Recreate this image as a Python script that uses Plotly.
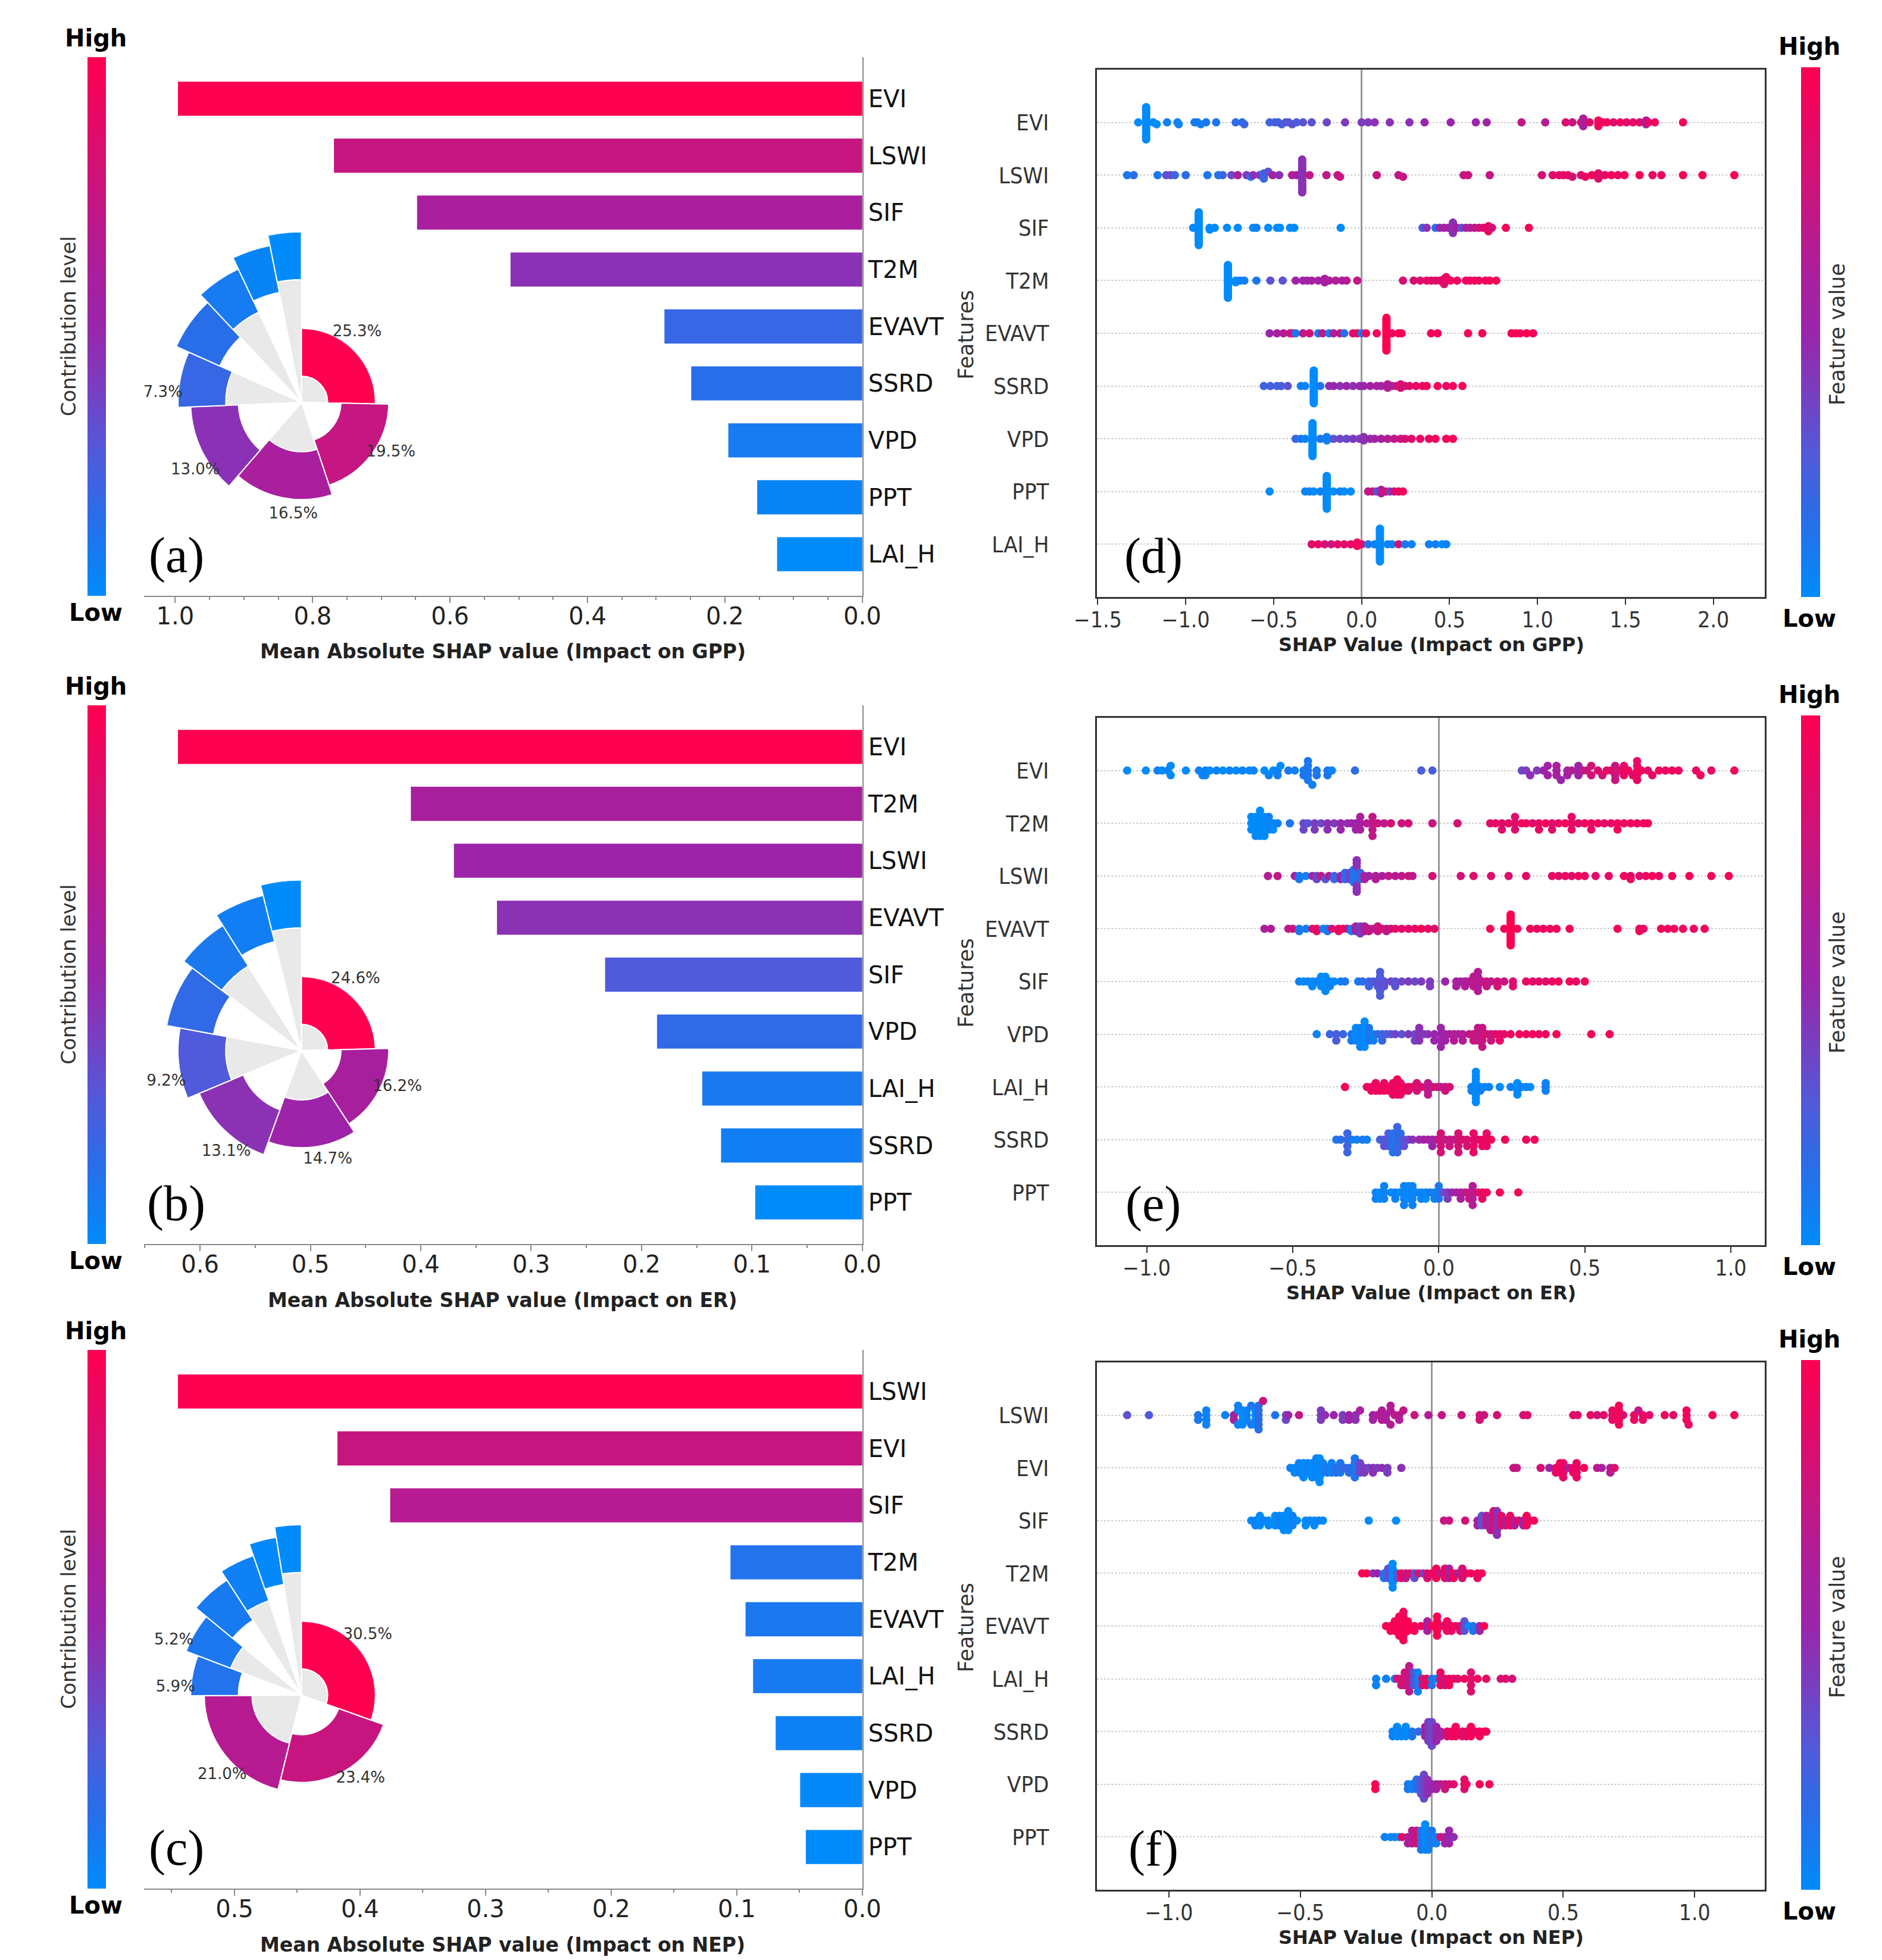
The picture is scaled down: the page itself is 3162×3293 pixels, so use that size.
import numpy as np
import plotly.graph_objects as go

W, H = 3162, 3293

# ---------------- mean |SHAP| bars ----------------
gpp_feats = ["EVI", "LSWI", "SIF", "T2M", "EVAVT", "SSRD", "VPD", "PPT", "LAI_H"]
gpp_mean = [0.996, 0.769, 0.648, 0.512, 0.288, 0.249, 0.195, 0.153, 0.124]
gpp_bar_ticks = [1.0, 0.8, 0.6, 0.4, 0.2, 0.0]

er_feats = ["EVI", "T2M", "LSWI", "EVAVT", "SIF", "VPD", "LAI_H", "SSRD", "PPT"]
er_mean = [0.620, 0.409, 0.370, 0.331, 0.233, 0.186, 0.145, 0.128, 0.097]
er_bar_ticks = [0.6, 0.5, 0.4, 0.3, 0.2, 0.1, 0.0]

nep_feats = ["LSWI", "EVI", "SIF", "T2M", "EVAVT", "LAI_H", "SSRD", "VPD", "PPT"]
nep_mean = [0.545, 0.418, 0.376, 0.105, 0.093, 0.087, 0.069, 0.0495, 0.045]
nep_bar_ticks = [0.5, 0.4, 0.3, 0.2, 0.1, 0.0]

# ring inset: inner radius of each coloured sector and sector length (outer circle = 1)
ring_base = [0.154, 0.232, 0.290, 0.370, 0.444, 0.524, 0.586, 0.658, 0.720]
ring_len = 0.28

# ---------------- SHAP swarm rows: [shap value, feature value 0..1, repeats] ----------------
gpp_evi = [[-1.27, 0], [-1.225, 0, 18], [-1.185, 0], [-1.165, 0], [-1.106, 0.05], [-1.047, 0.05], [-1.04, 0.05],
           [-0.95, 0.05], [-0.933, 0.1], [-0.914, 0.05], [-0.884, 0.1], [-0.827, 0.1], [-0.716, 0.15], [-0.679, 0.15],
           [-0.667, 0.2], [-0.523, 0.2], [-0.494, 0.25], [-0.474, 0.2], [-0.454, 0.25], [-0.432, 0.3], [-0.415, 0.25],
           [-0.395, 0.3], [-0.37, 0.25], [-0.333, 0.3], [-0.284, 0.3], [-0.198, 0.35], [-0.094, 0.4], [0.0, 0.4],
           [0.037, 0.4], [0.074, 0.45], [0.16, 0.45], [0.272, 0.45], [0.358, 0.5], [0.506, 0.5], [0.649, 0.5],
           [0.711, 0.55], [0.909, 0.7], [1.044, 0.65], [1.16, 0.85], [1.198, 0.75], [1.247, 0.9], [1.26, 0.6, 5],
           [1.296, 0.85], [1.346, 0.95, 4], [1.37, 0.9], [1.395, 0.95], [1.432, 0.85], [1.47, 0.95], [1.506, 0.85],
           [1.543, 0.9], [1.58, 0.85], [1.617, 0.6, 3], [1.63, 0.9], [1.667, 0.95], [1.827, 0.95]]
gpp_lswi = [[-1.333, 0.1], [-1.296, 0.15], [-1.16, 0.1], [-1.111, 0.3], [-1.086, 0.35], [-1.062, 0.2], [-1.0, 0.15],
            [-0.877, 0.1], [-0.815, 0.1], [-0.79, 0.2], [-0.74, 0.35], [-0.704, 0.6], [-0.654, 0.4], [-0.63, 0.1],
            [-0.617, 0.45], [-0.58, 0.4], [-0.556, 0.2, 4], [-0.531, 0.3], [-0.506, 0.55], [-0.469, 0.45],
            [-0.395, 0.65], [-0.37, 0.55], [-0.338, 0.45, 20], [-0.296, 0.7], [-0.2, 0.7], [-0.136, 0.7],
            [-0.123, 0.75], [0.086, 0.75], [0.21, 0.7], [0.235, 0.75], [0.58, 0.75], [0.605, 0.75], [0.728, 0.75],
            [1.025, 0.8], [1.086, 0.85], [1.123, 0.9], [1.148, 0.85], [1.173, 0.9], [1.198, 0.8], [1.247, 0.85],
            [1.272, 0.9], [1.309, 0.95], [1.346, 0.85, 4], [1.383, 0.9], [1.42, 0.95], [1.457, 0.9], [1.494, 0.95],
            [1.58, 0.95], [1.654, 0.9], [1.704, 0.9], [1.827, 0.95], [1.938, 0.95], [2.119, 1.0]]
gpp_sif = [[-0.958, 0], [-0.926, 0, 20], [-0.864, 0, 2], [-0.835, 0], [-0.765, 0], [-0.704, 0], [-0.617, 0],
           [-0.598, 0.05], [-0.531, 0], [-0.481, 0], [-0.464, 0], [-0.407, 0], [-0.383, 0], [-0.119, 0],
           [0.346, 0.25], [0.37, 0.45], [0.42, 0.1], [0.444, 0.5], [0.469, 0.55], [0.494, 0.6], [0.519, 0.45, 7],
           [0.543, 0.6], [0.568, 0.3], [0.593, 0.55], [0.617, 0.65], [0.642, 0.7], [0.667, 0.75], [0.691, 0.85],
           [0.721, 0.9, 4], [0.741, 0.8], [0.82, 0.95], [0.951, 0.95]]
gpp_t2m = [[-0.76, 0, 20], [-0.716, 0, 2], [-0.691, 0.05], [-0.667, 0.05], [-0.598, 0.1], [-0.519, 0.3],
           [-0.449, 0.3], [-0.375, 0.55], [-0.333, 0.5], [-0.309, 0.55], [-0.284, 0.6], [-0.247, 0.55],
           [-0.21, 0.6, 3], [-0.185, 0.6], [-0.148, 0.65], [-0.111, 0.6], [-0.086, 0.65], [-0.025, 0.7],
           [0.235, 0.8], [0.296, 0.8], [0.333, 0.85], [0.37, 0.85], [0.395, 0.9], [0.42, 0.8], [0.444, 0.9],
           [0.469, 0.85, 4], [0.481, 0.9], [0.506, 0.95], [0.543, 0.9], [0.593, 0.95], [0.617, 0.9], [0.642, 0.95],
           [0.667, 0.9], [0.704, 0.95], [0.728, 0.95], [0.765, 0.95]]
gpp_evavt = [[-0.523, 0.5], [-0.481, 0.6], [-0.444, 0.65], [-0.407, 0.75], [-0.39, 0.8], [-0.375, 0.1],
             [-0.333, 0.7], [-0.296, 0.8], [-0.247, 0.1], [-0.222, 0.7], [-0.185, 0.05], [-0.16, 0.6],
             [-0.123, 0.75], [-0.099, 0.15], [-0.049, 0.85], [-0.025, 0.9], [0.0, 0.1], [0.025, 0.95],
             [0.086, 0.95], [0.141, 1.0, 20], [0.173, 0.95], [0.21, 0.95], [0.227, 1.0], [0.395, 0.95],
             [0.432, 0.95], [0.605, 0.95], [0.686, 0.95], [0.852, 0.95], [0.877, 1.0], [0.901, 0.95],
             [0.938, 1.0], [0.975, 0.95]]
gpp_ssrd = [[-0.556, 0.2], [-0.519, 0.25], [-0.481, 0.2], [-0.457, 0.25], [-0.42, 0.3], [-0.346, 0.05],
            [-0.321, 0.05], [-0.272, 0, 20], [-0.235, 0.1], [-0.185, 0.45], [-0.16, 0.5], [-0.123, 0.45],
            [-0.086, 0.5], [-0.049, 0.45], [-0.012, 0.5], [0.012, 0.5], [0.049, 0.55], [0.086, 0.6], [0.111, 0.55],
            [0.148, 0.65, 3], [0.173, 0.6], [0.198, 0.7], [0.222, 0.85, 3], [0.247, 0.75], [0.272, 0.85],
            [0.309, 0.9], [0.346, 0.9], [0.37, 0.95], [0.432, 0.95], [0.481, 0.9], [0.519, 0.95], [0.573, 0.95]]
gpp_vpd = [[-0.375, 0.2], [-0.346, 0.1], [-0.321, 0.05], [-0.279, 0, 20], [-0.235, 0.1], [-0.198, 0.05, 3],
           [-0.16, 0.3], [-0.123, 0.35], [-0.086, 0.35], [-0.049, 0.4], [-0.012, 0.4], [0.012, 0.45, 3],
           [0.049, 0.5], [0.074, 0.55], [0.111, 0.6], [0.148, 0.65], [0.185, 0.7], [0.222, 0.75], [0.247, 0.8],
           [0.284, 0.85], [0.333, 0.9], [0.383, 0.9], [0.42, 0.95], [0.481, 0.95], [0.519, 0.95]]
gpp_ppt = [[-0.523, 0], [-0.321, 0.05], [-0.296, 0.05], [-0.272, 0], [-0.235, 0.05], [-0.198, 0, 20], [-0.16, 0],
           [-0.123, 0.05], [-0.099, 0], [-0.062, 0], [0.037, 0.7], [0.062, 0.8], [0.086, 0.3], [0.111, 0.6, 3],
           [0.136, 0.85], [0.16, 0.4], [0.185, 0.8], [0.21, 0.9], [0.235, 0.95]]
gpp_lai = [[-0.284, 0.85], [-0.247, 0.9], [-0.21, 0.8], [-0.173, 0.75], [-0.136, 0.9], [-0.099, 0.85],
           [-0.062, 0.9], [-0.025, 0.95, 3], [0.0, 0.9], [0.037, 0.1], [0.074, 0.05], [0.104, 0, 20],
           [0.148, 0.05], [0.173, 0.05], [0.21, 0.8], [0.247, 0.1], [0.284, 0.05], [0.383, 0.05], [0.42, 0.05],
           [0.457, 0], [0.481, 0.05]]

er_evi = [[-1.067, 0], [-1.003, 0], [-0.963, 0.05], [-0.948, 0], [-0.928, 0.05], [-0.918, 0, 2], [-0.866, 0],
          [-0.821, 0.05], [-0.809, 0], [-0.799, 0.05, 2], [-0.784, 0], [-0.761, 0.05], [-0.739, 0], [-0.716, 0.05],
          [-0.694, 0], [-0.672, 0.05], [-0.649, 0], [-0.634, 0.05], [-0.597, 0], [-0.582, 0.05], [-0.567, 0],
          [-0.552, 0.05, 2], [-0.542, 0], [-0.515, 0.1], [-0.493, 0.05], [-0.463, 0.1, 2], [-0.448, 0.1, 5],
          [-0.433, 0.05], [-0.418, 0.1, 2], [-0.381, 0.1, 2], [-0.366, 0.05], [-0.287, 0.15], [-0.06, 0.25],
          [-0.022, 0.25], [0.284, 0.35], [0.299, 0.4], [0.313, 0.45], [0.336, 0.4], [0.358, 0.5], [0.373, 0.55, 2],
          [0.403, 0.6, 3], [0.418, 0.5], [0.44, 0.55, 2], [0.455, 0.65], [0.478, 0.5, 3], [0.493, 0.7],
          [0.507, 0.75], [0.522, 0.8, 2], [0.545, 0.85], [0.56, 0.8], [0.575, 0.9], [0.59, 0.85], [0.604, 0.75, 3],
          [0.619, 0.8], [0.634, 0.9, 3], [0.649, 0.95], [0.664, 0.85], [0.679, 0.9, 5], [0.694, 0.95],
          [0.716, 0.85], [0.731, 0.9], [0.754, 0.95], [0.776, 0.9], [0.799, 0.95], [0.821, 0.9], [0.881, 0.9],
          [0.896, 0.95], [0.933, 0.9], [1.012, 0.95]]
er_t2m = [[-0.642, 0, 3], [-0.627, 0, 4], [-0.612, 0, 5], [-0.597, 0, 4], [-0.582, 0.05, 3], [-0.567, 0, 2],
          [-0.552, 0.05], [-0.51, 0.1], [-0.463, 0.35, 2], [-0.448, 0.3], [-0.425, 0.4, 2], [-0.403, 0.35],
          [-0.381, 0.45, 2], [-0.358, 0.4], [-0.336, 0.5, 2], [-0.313, 0.45], [-0.299, 0.55], [-0.284, 0.5, 2],
          [-0.269, 0.6, 3], [-0.246, 0.65], [-0.227, 0.7, 4], [-0.209, 0.75], [-0.187, 0.7], [-0.164, 0.8],
          [-0.127, 0.75], [-0.104, 0.8], [-0.022, 0.75], [0.064, 0.8], [0.176, 0.85], [0.194, 0.9],
          [0.216, 0.85, 2], [0.239, 0.9], [0.261, 0.85, 3], [0.284, 0.9], [0.299, 0.95], [0.321, 0.85],
          [0.343, 0.9, 2], [0.366, 0.95], [0.388, 0.85, 2], [0.41, 0.9], [0.433, 0.95], [0.455, 0.9, 3],
          [0.478, 0.85], [0.5, 0.95], [0.522, 0.9, 2], [0.545, 0.95], [0.567, 0.85], [0.59, 0.9], [0.612, 0.95, 2],
          [0.634, 0.9], [0.657, 0.95], [0.679, 0.9], [0.701, 0.95], [0.716, 0.95]]
er_lswi = [[-0.585, 0.65], [-0.552, 0.7], [-0.493, 0.55], [-0.478, 0.1, 2], [-0.455, 0.05], [-0.433, 0.6],
           [-0.418, 0.35, 2], [-0.403, 0.7], [-0.388, 0.3], [-0.376, 0.6], [-0.358, 0.2, 2], [-0.336, 0.5, 2],
           [-0.321, 0.15, 3], [-0.306, 0.35, 3], [-0.291, 0.1, 5], [-0.281, 0.45, 6], [-0.269, 0.2, 3],
           [-0.254, 0.6, 2], [-0.239, 0.55], [-0.216, 0.65, 2], [-0.194, 0.6], [-0.172, 0.7], [-0.149, 0.65],
           [-0.127, 0.7], [-0.104, 0.75], [-0.09, 0.7], [-0.022, 0.8], [0.075, 0.8], [0.119, 0.85], [0.179, 0.85],
           [0.239, 0.85], [0.299, 0.9], [0.388, 0.9], [0.41, 0.85], [0.433, 0.9], [0.455, 0.85], [0.478, 0.95],
           [0.5, 0.9], [0.537, 0.85], [0.582, 0.9], [0.634, 0.95], [0.657, 0.9, 2], [0.687, 0.85], [0.709, 0.9],
           [0.731, 0.95], [0.754, 0.9], [0.799, 0.95], [0.858, 0.95], [0.933, 0.95], [0.993, 0.95]]
er_evavt = [[-0.597, 0.6], [-0.575, 0.65], [-0.515, 0.7], [-0.5, 0.75], [-0.478, 0.1, 2], [-0.455, 0.05],
            [-0.433, 0.85], [-0.418, 0.9, 2], [-0.396, 0.05], [-0.381, 0.1, 2], [-0.366, 0.8], [-0.343, 0.9, 2],
            [-0.328, 0.95], [-0.313, 0.7], [-0.299, 0.05, 2], [-0.284, 0.55, 3], [-0.269, 0.4, 4],
            [-0.254, 0.6, 3], [-0.239, 0.75, 2], [-0.224, 0.65], [-0.209, 0.75, 3], [-0.194, 0.85],
            [-0.179, 0.7, 2], [-0.164, 0.8], [-0.149, 0.85], [-0.127, 0.9], [-0.104, 0.85], [-0.082, 0.9],
            [-0.06, 0.95], [-0.037, 0.9], [-0.015, 0.85], [0.176, 0.95], [0.224, 0.95], [0.246, 1.0, 14],
            [0.269, 0.95], [0.313, 0.95], [0.336, 0.9], [0.358, 0.95], [0.381, 0.9], [0.403, 0.95], [0.448, 0.95],
            [0.612, 0.95], [0.687, 0.95, 2], [0.701, 0.9], [0.761, 0.95], [0.784, 0.9], [0.806, 0.95],
            [0.836, 0.95], [0.873, 0.9], [0.91, 0.95]]
er_sif = [[-0.478, 0.05], [-0.463, 0], [-0.448, 0.05], [-0.433, 0, 2], [-0.418, 0.05], [-0.403, 0, 3],
          [-0.388, 0, 4], [-0.373, 0.05, 2], [-0.358, 0], [-0.336, 0.05], [-0.321, 0.1], [-0.276, 0.1],
          [-0.261, 0.15], [-0.239, 0.2, 2], [-0.224, 0.25], [-0.209, 0.3, 2], [-0.201, 0.25, 4], [-0.187, 0.3, 2],
          [-0.164, 0.35], [-0.149, 0.3, 2], [-0.127, 0.35], [-0.104, 0.4], [-0.082, 0.35], [-0.06, 0.4],
          [-0.03, 0.4, 2], [0.022, 0.5], [0.06, 0.6, 2], [0.075, 0.55], [0.09, 0.65, 2], [0.104, 0.6],
          [0.119, 0.7, 3], [0.134, 0.65, 5], [0.149, 0.7], [0.164, 0.75, 2], [0.179, 0.7], [0.201, 0.8, 2],
          [0.224, 0.75], [0.254, 0.85, 2], [0.299, 0.9], [0.321, 0.85], [0.343, 0.9], [0.366, 0.85], [0.388, 0.9],
          [0.41, 0.95], [0.448, 0.95], [0.47, 0.9], [0.5, 0.95]]
er_vpd = [[-0.418, 0.05], [-0.373, 0.2], [-0.351, 0.25, 2], [-0.328, 0.2], [-0.299, 0.1, 2], [-0.284, 0, 3],
          [-0.269, 0.05, 4], [-0.254, 0, 5], [-0.239, 0.1, 3], [-0.224, 0.05, 2], [-0.209, 0.15], [-0.194, 0.2, 2],
          [-0.179, 0.25], [-0.164, 0.3], [-0.149, 0.35], [-0.127, 0.3], [-0.104, 0.4], [-0.082, 0.35, 2],
          [-0.067, 0.45, 3], [-0.052, 0.4], [-0.037, 0.45], [-0.015, 0.5, 2], [0.007, 0.5, 4], [0.022, 0.55, 2],
          [0.037, 0.6], [0.052, 0.65, 2], [0.067, 0.6], [0.082, 0.65, 2], [0.104, 0.7], [0.119, 0.75, 2],
          [0.134, 0.7, 3], [0.149, 0.75, 4], [0.164, 0.8], [0.179, 0.75, 2], [0.194, 0.85], [0.209, 0.9, 2],
          [0.224, 0.85], [0.246, 0.9], [0.276, 0.95], [0.299, 0.9], [0.321, 0.95], [0.343, 0.9], [0.366, 0.95],
          [0.403, 0.95], [0.522, 0.95], [0.585, 0.95]]
er_lai = [[-0.321, 0.95], [-0.246, 0.9], [-0.231, 0.95, 2], [-0.216, 0.9, 3], [-0.201, 0.95, 2], [-0.187, 0.9, 3],
          [-0.172, 0.95, 2], [-0.157, 0.9, 4], [-0.142, 0.95, 5], [-0.131, 0.9, 4], [-0.119, 0.95, 2],
          [-0.104, 0.85, 2], [-0.09, 0.9], [-0.075, 0.8, 3], [-0.06, 0.85], [-0.037, 0.7, 4], [-0.022, 0.75],
          [-0.007, 0.8], [0.007, 0.7], [0.022, 0.75, 2], [0.037, 0.8], [0.112, 0.05, 2], [0.127, 0, 9],
          [0.142, 0.05, 2], [0.157, 0], [0.172, 0.05], [0.209, 0], [0.246, 0.05], [0.269, 0, 4], [0.284, 0.05],
          [0.299, 0], [0.313, 0], [0.366, 0.05, 3]]
er_ssrd = [[-0.351, 0.1], [-0.336, 0.15], [-0.313, 0.2, 4], [-0.299, 0.1], [-0.281, 0.05], [-0.261, 0.1],
           [-0.246, 0.05], [-0.201, 0.2], [-0.187, 0.3, 2], [-0.172, 0.25, 3], [-0.157, 0.1, 4], [-0.142, 0.2, 5],
           [-0.131, 0.15, 3], [-0.119, 0.3, 2], [-0.104, 0.35], [-0.09, 0.45], [-0.067, 0.5], [-0.052, 0.55],
           [-0.037, 0.6], [-0.022, 0.5, 2], [-0.007, 0.65], [0.007, 0.8, 4], [0.022, 0.7], [0.037, 0.75, 2],
           [0.052, 0.7], [0.067, 0.8, 4], [0.082, 0.85], [0.097, 0.8, 2], [0.119, 0.9, 4], [0.134, 0.85],
           [0.149, 0.95, 2], [0.164, 0.9, 3], [0.179, 0.95], [0.227, 0.95], [0.299, 0.95], [0.328, 0.95]]
er_ppt = [[-0.216, 0.05, 2], [-0.201, 0, 2], [-0.187, 0.05, 3], [-0.164, 0], [-0.149, 0.05, 2], [-0.134, 0],
          [-0.119, 0.05, 4], [-0.104, 0, 3], [-0.09, 0.05, 4], [-0.075, 0], [-0.06, 0.05, 2], [-0.045, 0, 2],
          [-0.03, 0.1], [-0.015, 0.05, 2], [0.0, 0.1, 3], [0.015, 0.3], [0.03, 0.4, 2], [0.045, 0.5], [0.06, 0.55],
          [0.075, 0.6, 2], [0.09, 0.7], [0.104, 0.75, 2], [0.116, 0.65, 4], [0.134, 0.85], [0.149, 0.9, 2],
          [0.164, 0.95], [0.209, 0.95], [0.272, 0.95]]

nep_lswi = [[-1.159, 0.3], [-1.076, 0.25], [-0.889, 0.1, 2], [-0.858, 0.05, 4], [-0.786, 0.05], [-0.753, 0.6, 2],
            [-0.737, 0.05, 3], [-0.72, 0, 4], [-0.704, 0.05, 3], [-0.687, 0.1, 2], [-0.671, 0, 4],
            [-0.659, 0.15, 6], [-0.642, 0.75], [-0.596, 0.1], [-0.555, 0.35, 2], [-0.546, 0.5], [-0.505, 0.7],
            [-0.422, 0.4, 3], [-0.406, 0.45], [-0.373, 0.5], [-0.339, 0.4, 2], [-0.315, 0.55, 2], [-0.29, 0.45, 2],
            [-0.273, 0.6], [-0.224, 0.55, 2], [-0.207, 0.6], [-0.19, 0.65, 3], [-0.174, 0.6, 2], [-0.157, 0.65, 3],
            [-0.141, 0.7], [-0.124, 0.65, 2], [-0.108, 0.7], [-0.066, 0.75], [-0.013, 0.65], [0.038, 0.75],
            [0.113, 0.75], [0.182, 0.8, 2], [0.199, 0.75], [0.248, 0.8], [0.348, 0.8], [0.364, 0.85], [0.538, 0.9],
            [0.555, 0.85], [0.604, 0.9], [0.629, 0.8], [0.654, 0.85], [0.687, 0.9, 3], [0.712, 0.95, 5],
            [0.728, 0.85], [0.77, 0.9, 2], [0.786, 0.7], [0.803, 0.9, 2], [0.828, 0.85], [0.886, 0.9],
            [0.919, 0.85], [0.969, 0.95, 3], [0.977, 0.9], [1.068, 0.95], [1.151, 0.95]]
nep_evi = [[-0.538, 0.05], [-0.522, 0, 2], [-0.505, 0.05, 3], [-0.488, 0, 4], [-0.472, 0.05, 3], [-0.455, 0, 4],
           [-0.439, 0.05, 5], [-0.427, 0, 6], [-0.414, 0.05, 3], [-0.397, 0.1, 2], [-0.381, 0.05, 3],
           [-0.364, 0.15, 2], [-0.348, 0.1, 3], [-0.331, 0.2], [-0.315, 0.15, 2], [-0.293, 0.1, 5],
           [-0.273, 0.35, 3], [-0.257, 0.4, 2], [-0.24, 0.35], [-0.224, 0.45, 2], [-0.207, 0.4], [-0.19, 0.45],
           [-0.169, 0.4, 2], [-0.116, 0.45], [0.311, 0.75], [0.323, 0.75], [0.414, 0.8], [0.447, 0.5],
           [0.472, 0.85, 2], [0.488, 0.95, 3], [0.5, 0.9, 4], [0.522, 0.6], [0.538, 0.95, 2], [0.551, 0.9, 4],
           [0.579, 0.95], [0.629, 0.7], [0.646, 0.6], [0.679, 0.65, 2], [0.695, 0.85]]
nep_sif = [[-0.687, 0], [-0.671, 0.05, 2], [-0.654, 0, 3], [-0.637, 0.05], [-0.621, 0, 2], [-0.596, 0, 3],
           [-0.579, 0.05, 3], [-0.563, 0, 4], [-0.546, 0, 5], [-0.53, 0.05, 3], [-0.513, 0], [-0.48, 0, 2],
           [-0.464, 0.05], [-0.447, 0, 2], [-0.43, 0.05], [-0.414, 0], [-0.24, 0], [-0.136, 0], [0.046, 0.75],
           [0.066, 0.75], [0.127, 0.8], [0.174, 0.6, 2], [0.19, 0.3, 3], [0.207, 0.65, 3], [0.224, 0.55, 4],
           [0.235, 0.8, 5], [0.248, 0.45, 6], [0.265, 0.85, 3], [0.281, 0.7, 2], [0.298, 0.9, 3], [0.315, 0.65, 2],
           [0.331, 0.85], [0.348, 0.5, 2], [0.361, 0.95, 3], [0.373, 0.9], [0.389, 0.95]]
nep_t2m = [[-0.265, 0.95], [-0.248, 1.0], [-0.224, 0.45], [-0.207, 0.5], [-0.182, 0.1, 2], [-0.166, 0.3, 3],
           [-0.149, 0, 6], [-0.132, 0.25, 2], [-0.116, 0.95, 2], [-0.099, 0.7, 2], [-0.083, 0.9], [-0.066, 0.3, 2],
           [-0.05, 0.85], [-0.033, 0.4], [-0.017, 0.8, 2], [0.0, 0.9], [0.017, 0.95, 3], [0.033, 0.7],
           [0.05, 0.9, 3], [0.066, 0.6, 3], [0.083, 0.95, 2], [0.099, 0.65], [0.116, 0.8, 3], [0.132, 0.9],
           [0.149, 0.95], [0.174, 0.9, 2], [0.19, 0.95]]
nep_evavt = [[-0.174, 0.95], [-0.157, 1.0, 2], [-0.141, 0.95, 3], [-0.124, 1.0, 5], [-0.108, 0.95, 7],
             [-0.091, 1.0, 3], [-0.066, 0.95, 2], [-0.041, 0.9], [-0.017, 0.6, 3], [0.0, 0.95], [0.02, 1.0, 5],
             [0.041, 0.85], [0.058, 0.95, 3], [0.075, 0.9, 2], [0.091, 0.95], [0.108, 0.85, 2], [0.124, 0.3, 3],
             [0.141, 0.0], [0.157, 0.1, 2], [0.182, 0.5, 2], [0.199, 1.0]]
nep_lai = [[-0.212, 0.05, 2], [-0.174, 0.05], [-0.141, 0.05], [-0.132, 0.85], [-0.116, 0.75, 2], [-0.103, 0.8, 3],
           [-0.086, 0.7, 5], [-0.07, 0.3, 3], [-0.053, 0.05, 4], [-0.036, 0.75, 2], [-0.02, 0.95, 2],
           [0.0, 0.1, 2], [0.017, 0.05], [0.033, 0.9, 3], [0.05, 0.75, 2], [0.066, 0.95, 2], [0.083, 0.9],
           [0.099, 0.85], [0.124, 0.95], [0.149, 0.85, 4], [0.174, 0.95], [0.207, 0.9], [0.262, 0.8],
           [0.281, 0.85], [0.306, 0.8]]
nep_ssrd = [[-0.149, 0.05, 2], [-0.132, 0, 3], [-0.116, 0.05, 2], [-0.099, 0, 3], [-0.075, 0.1, 2], [-0.05, 0.2],
            [-0.025, 0.6, 3], [-0.013, 0.4, 5], [0.0, 0.35, 6], [0.017, 0.5, 4], [0.033, 0.55, 2],
            [0.058, 0.85, 2], [0.075, 0.9, 2], [0.091, 0.95, 3], [0.116, 0.85, 2], [0.132, 0.9, 2],
            [0.149, 0.95, 3], [0.166, 0.9], [0.182, 0.95, 2], [0.199, 0.9], [0.207, 0.95]]
nep_vpd = [[-0.215, 1.0, 2], [-0.091, 0.1, 2], [-0.075, 0.05, 2], [-0.058, 0.15, 3], [-0.041, 0.3, 4],
           [-0.03, 0.35, 6], [-0.017, 0.45, 4], [0.0, 0.5, 2], [0.017, 0.55, 2], [0.033, 0.65], [0.05, 0.75, 2],
           [0.066, 0.8], [0.083, 0.85], [0.124, 0.85, 3], [0.132, 0.9], [0.182, 0.95], [0.219, 0.95]]
nep_ppt = [[-0.179, 0.05], [-0.157, 0], [-0.141, 0.05], [-0.124, 0], [-0.113, 0.95], [-0.091, 0.6, 2],
           [-0.075, 0.65, 3], [-0.058, 0.8, 3], [-0.041, 0.1, 4], [-0.025, 0, 5], [-0.013, 0.05, 4], [0.0, 0.1, 3],
           [0.017, 0.05, 2], [0.033, 0.85], [0.05, 0.55, 2], [0.066, 0.5, 3], [0.083, 0.45]]

gpp_shap_ticks = [-1.5, -1.0, -0.5, 0.0, 0.5, 1.0, 1.5, 2.0]
er_shap_ticks = [-1.0, -0.5, 0.0, 0.5, 1.0]
nep_shap_ticks = [-1.0, -0.5, 0.0, 0.5, 1.0]

panels = [
    dict(target="GPP", feats=gpp_feats, mean=gpp_mean, bar_ticks=gpp_bar_ticks, shap_ticks=gpp_shap_ticks,
         rows=[gpp_evi, gpp_lswi, gpp_sif, gpp_t2m, gpp_evavt, gpp_ssrd, gpp_vpd, gpp_ppt, gpp_lai],
         tags=("(a)", "(d)")),
    dict(target="ER", feats=er_feats, mean=er_mean, bar_ticks=er_bar_ticks, shap_ticks=er_shap_ticks,
         rows=[er_evi, er_t2m, er_lswi, er_evavt, er_sif, er_vpd, er_lai, er_ssrd, er_ppt],
         tags=("(b)", "(e)")),
    dict(target="NEP", feats=nep_feats, mean=nep_mean, bar_ticks=nep_bar_ticks, shap_ticks=nep_shap_ticks,
         rows=[nep_lswi, nep_evi, nep_sif, nep_t2m, nep_evavt, nep_lai, nep_ssrd, nep_vpd, nep_ppt],
         tags=("(c)", "(f)")),
]

# shap-style red/blue ramp, stops as they show in the figure's colour bars
shap_scale = [[0.0, "#008bfb"], [0.15, "#2a6de8"], [0.27, "#5259da"], [0.42, "#8337b9"], [0.5, "#9a25ab"],
              [0.6, "#a91f9e"], [0.75, "#c8157f"], [0.88, "#e40a66"], [1.0, "#ff0051"]]


def swarm(xs, nbins=100, row_height=0.4):
    xs = np.asarray(xs, float)
    quant = np.round(nbins * (xs - xs.min()) / (xs.max() - xs.min() + 1e-8))
    ys = np.zeros(len(xs))
    layer, last = 0, None
    for i in np.argsort(quant, kind="stable"):
        if quant[i] != last:
            layer = 0
        ys[i] = np.ceil(layer / 2) * ((layer % 2) * 2 - 1)
        layer += 1
        last = quant[i]
    return ys * 0.9 * (row_height / np.max(ys + 1))


def fmt(v):
    return ("%.1f" % v).replace("-", "\u2212")


def px(x, y):
    return x / W, 1 - y / H


FONT = "DejaVu Sans"
NARROW = "DejaVu Sans Condensed, DejaVu Sans"
offsets = [0, 1089, 2172]
ring_cx, ring_cy, ring_r = 470, 668, 293

fig = go.Figure()
layout = dict(width=W, height=H, autosize=False, margin=dict(l=0, r=0, t=0, b=0),
              paper_bgcolor="white", plot_bgcolor="white", showlegend=False,
              font=dict(family=FONT, color="#222"))
notes = []


def note(x, y, text, size, angle=0, color="black", family=FONT):
    xx, yy = px(x, y)
    notes.append(dict(x=xx, y=yy, xref="paper", yref="paper", text=text, showarrow=False,
                      textangle=angle, xanchor="center", yanchor="middle",
                      font=dict(size=size, color=color, family=family)))


for p, pan in enumerate(panels):
    off = offsets[p]
    ib, isw = 2 * p + 1, 2 * p + 2
    nb = "" if ib == 1 else str(ib)
    ns = str(isw)
    n = len(pan["feats"])
    vals = np.array(pan["mean"])
    vmin, vmax = vals.min(), vals.max()

    # ---- bar panel ----
    fig.add_trace(go.Bar(
        x=vals, y=list(range(n)), orientation="h", width=0.6,
        xaxis="x" + nb, yaxis="y" + nb,
        marker=dict(color=vals, colorscale=shap_scale, cmin=vmin, cmax=vmax, line=dict(width=0),
                    showscale=True,
                    colorbar=dict(x=102 / W, xanchor="left", y=1 - (88 + off) / H, yanchor="top",
                                  len=905, lenmode="pixels", thickness=31, thicknessmode="pixels",
                                  showticklabels=False, ticks="", outlinewidth=0, xpad=0, ypad=0)),
        hoverinfo="skip"))
    span = (n - 1) + 0.6
    layout["xaxis" + nb] = dict(
        domain=[199 / W, 1434 / W], anchor="y" + nb, range=[vmax * 1.05, 0],
        tickvals=pan["bar_ticks"], ticktext=[fmt(v) for v in pan["bar_ticks"]],
        showline=True, linecolor="#8a8a8a", linewidth=2, ticks="outside", ticklen=10, tickwidth=2,
        tickcolor="#8a8a8a", minor=dict(ticks="outside", ticklen=5, tickcolor="#8a8a8a", nticks=5),
        ticklabelstandoff=-12, tickfont=dict(size=40, color="#222"), showgrid=False, zeroline=False)
    layout["yaxis" + nb] = dict(
        domain=[1 - (993 + off) / H, 1 - (88 + off) / H], anchor="x" + nb, side="right",
        range=[n - 1 + 0.3 + 0.05 * span, -0.3 - 0.05 * span],
        tickvals=list(range(n)), ticktext=pan["feats"], ticks="", ticklabelstandoff=0,
        tickfont=dict(size=40, color="#111"), showline=True, linecolor="#8a8a8a", linewidth=2,
        showgrid=False, zeroline=False)

    # ---- ring inset ----
    pct = vals / vals.sum() * 100
    start = np.concatenate([[0], np.cumsum(pct)[:-1]])
    centre = (start + pct / 2) * 3.6
    width = pct * 3.6
    base = np.array(ring_base)
    outer = base + ring_len
    pol = "polar" + ("" if p == 0 else str(p + 1))
    fig.add_trace(go.Barpolar(
        r=base, theta=centre, width=width, subplot=pol,
        marker=dict(color=["#e9e9e9" if i % 2 == 0 else "#ffffff" for i in range(n)],
                    line=dict(color="white", width=2)), hoverinfo="skip"))
    fig.add_trace(go.Barpolar(
        r=[ring_len] * n, base=base, theta=centre, width=width, subplot=pol,
        marker=dict(color=vals, colorscale=shap_scale, cmin=vmin, cmax=vmax,
                    line=dict(color="white", width=2)), hoverinfo="skip"))
    top = np.argsort(-pct)[:5]
    fig.add_trace(go.Scatterpolar(
        r=outer[top] + 0.09, theta=centre[top] - 7, mode="text", subplot=pol,
        text=["%.1f%%" % pct[i] for i in top], textfont=dict(size=26, color="#333", family=FONT),
        hoverinfo="skip"))
    cy = ring_cy + off
    layout[pol] = dict(
        domain=dict(x=[(ring_cx - ring_r) / W, (ring_cx + ring_r) / W],
                    y=[1 - (cy + ring_r) / H, 1 - (cy - ring_r) / H]),
        bgcolor="rgba(0,0,0,0)", hole=0,
        radialaxis=dict(visible=False, range=[0, 1]),
        angularaxis=dict(visible=False, direction="clockwise", rotation=90, thetaunit="degrees"))

    # ---- beeswarm panel ----
    xs_all, ys_all, cs_all = [], [], []
    for r, row in enumerate(pan["rows"]):
        xs, cs = [], []
        for item in row:
            k = item[2] if len(item) > 2 else 1
            xs += [item[0]] * k
            cs += [item[1]] * k
        yo = swarm(xs)
        xs_all += xs
        ys_all += list(r + yo)
        cs_all += cs
    lo, hi = min(xs_all), max(xs_all)
    pad = 0.05 * (hi - lo)
    fig.add_trace(go.Scatter(
        x=xs_all, y=ys_all, mode="markers", xaxis="x" + ns, yaxis="y" + ns,
        marker=dict(size=14, color=cs_all, colorscale=shap_scale, cmin=0, cmax=1, line=dict(width=0),
                    showscale=True,
                    colorbar=dict(x=3047 / W, xanchor="left", y=1 - (105 + off) / H, yanchor="top",
                                  len=890, lenmode="pixels", thickness=32, thicknessmode="pixels",
                                  showticklabels=False, ticks="", outlinewidth=0, xpad=0, ypad=0)),
        hoverinfo="skip"))
    layout["xaxis" + ns] = dict(
        domain=[1837 / W, 2985 / W], anchor="y" + ns, range=[lo - pad, hi + pad],
        tickvals=pan["shap_ticks"], ticktext=[fmt(v) for v in pan["shap_ticks"]],
        showline=True, mirror=True, linecolor="#333", linewidth=2.5, ticks="outside", ticklen=10,
        tickwidth=2, tickcolor="#333", tickfont=dict(size=37, color="#333", family=NARROW),
        ticklabelstandoff=-6, showgrid=False,
        zeroline=True, zerolinecolor="#999999", zerolinewidth=3)
    layout["yaxis" + ns] = dict(
        domain=[1 - (995 + off) / H, 1 - (109 + off) / H], anchor="x" + ns, range=[n, -1],
        tickvals=list(range(n)), ticktext=pan["feats"], ticks="", ticklabelstandoff=70,
        tickfont=dict(size=38, color="#333", family=NARROW), showline=True, mirror=True, linecolor="#333",
        linewidth=2.5, showgrid=True, gridcolor="#cccccc", griddash="dot", gridwidth=2, zeroline=False)

    # ---- texts ----
    note(117, 56 + off, "<b>High</b>", 40)
    note(117, 1021 + off, "<b>Low</b>", 40)
    note(70, 540 + off, "Contribution level", 34, angle=-90, color="#333")
    note(816, 1087 + off, "<b>Mean Absolute SHAP value (Impact on %s)</b>" % pan["target"], 33, color="#222")
    note(255, 925 + off, pan["tags"][0], 84, family="Liberation Serif")
    note(3062, 70 + off, "<b>High</b>", 40)
    note(3062, 1031 + off, "<b>Low</b>", 40)
    note(3110, 554 + off, "Feature value", 35, angle=-90, color="#333")
    note(1612, 554 + off, "Features", 35, angle=-90, color="#333")
    note(2412, 1075 + off, "<b>SHAP Value (Impact on %s)</b>" % pan["target"], 32, color="#222")
    note(1934, 926 + off, pan["tags"][1], 84, family="Liberation Serif")

layout["annotations"] = notes
fig.update_layout(**layout)
fig.write_html("out.html")
